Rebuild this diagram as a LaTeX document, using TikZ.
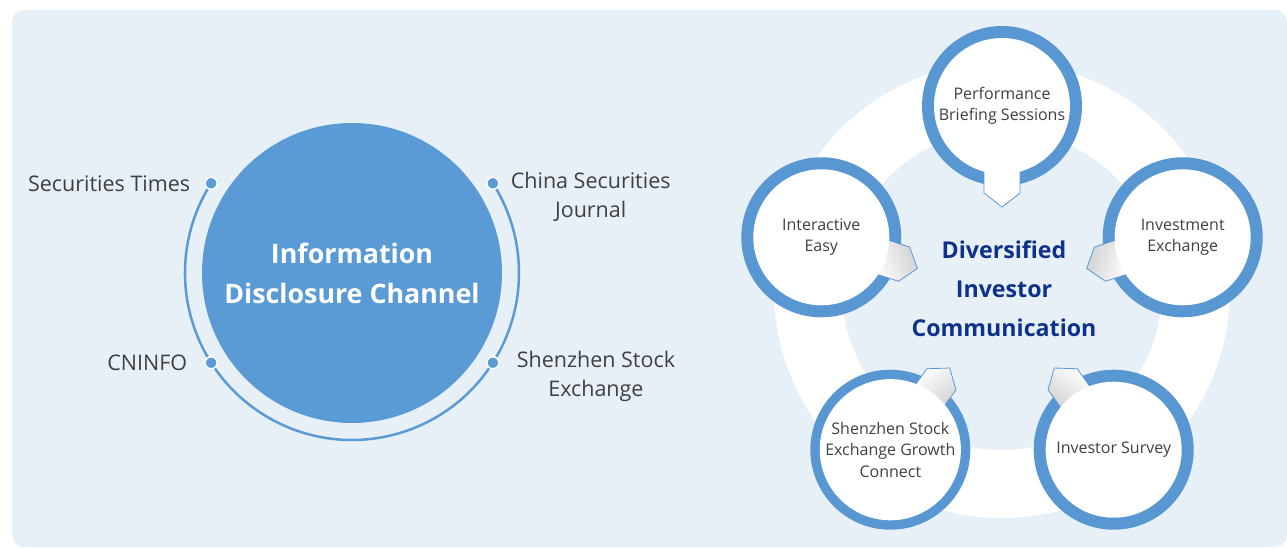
\documentclass[tikz,border=0pt]{standalone}
\usepackage{fontspec}
\setmainfont{Open Sans}
\usetikzlibrary{positioning}
\definecolor{panelbg}{RGB}{232,240,247}
\definecolor{infoblue}{RGB}{91,155,213}
\definecolor{ringblue}{RGB}{88,151,210}
\definecolor{textgray}{RGB}{64,64,64}
\definecolor{navy}{RGB}{14,50,140}
\begin{document}
\begin{tikzpicture}
  [x=1pt, y=1pt,
   bigdisk/.style={circle, fill=infoblue, minimum size=300pt, inner sep=0pt, text=white, align=center, font=\bfseries\fontsize{26.8}{40}\selectfont},
   arcline/.style={draw=infoblue, line width=2.5pt},
   dot/.style={circle, fill=infoblue, draw=white, line width=1.5pt, minimum size=12pt, inner sep=0pt},
   lbl/.style={text=textgray, align=center, font=\fontsize{21.5}{29}\selectfont, inner sep=0pt},
   outerdisk/.style={circle, fill=ringblue, minimum size=160pt, inner sep=0pt},
   innerdisk/.style={circle, fill=white, minimum size=136pt, inner sep=0pt, text=textgray, align=center, font=\fontsize{16}{21.5}\selectfont},
   tab/.style={fill=white, draw=ringblue, line width=0.8pt},
   tabshade/.style={draw=ringblue, line width=0.8pt, top color=black!18, bottom color=white, shading angle=#1},
   title/.style={text=navy, align=center, font=\bfseries\fontsize{23.2}{39}\selectfont}]
  \useasboundingbox (0,0) rectangle (1287,-548);
  \fill[panelbg, rounded corners=12pt] (12,-10) rectangle (1287,-547);

  % information disclosure channel
  \node[bigdisk] (info) at (352,-273) {Information\\Disclosure Channel};
  \coordinate (d1) at ([shift={(147.5:167)}]info.center);
  \coordinate (d2) at ([shift={(32.5:167)}]info.center);
  \coordinate (d3) at ([shift={(212.5:167)}]info.center);
  \coordinate (d4) at ([shift={(-32.5:167)}]info.center);
  \draw[arcline] (d1) arc[start angle=147.5, end angle=392.5, radius=167];
  \node[dot] (dot1) at (d1) {};
  \node[dot] (dot2) at (d2) {};
  \node[dot] (dot3) at (d3) {};
  \node[dot] (dot4) at (d4) {};
  \node[lbl, left=14pt of dot1] (sectimes) {Securities Times};
  \node[lbl, right=11pt of dot2, yshift=-14pt] (csj) {China Securities\\Journal};
  \node[lbl, left=17pt of dot3] (cninfo) {CNINFO};
  \node[lbl, right=17pt of dot4, yshift=-14pt] (szse) {Shenzhen Stock\\Exchange};

  % diversified investor communication
  \coordinate (hub) at (1002,-296);
  \draw[white, line width=68pt] ([yshift=6pt]hub) circle[radius=194];

  \node[outerdisk] (perfring) at ([shift={(90:190)}]hub) {};
  \begin{scope}[shift={(perfring.center)}, rotate=270]
    \filldraw[tab] (60,-18) -- (87,-18) -- (101,0) -- (87,18) -- (60,18) -- cycle;
  \end{scope}
  \node[innerdisk] (perf) at (perfring) {Performance\\Briefing Sessions};

  \node[outerdisk] (interring) at ([shift={(162:190)}]hub) {};
  \begin{scope}[shift={(interring.center)}, rotate=342]
    \draw[tabshade=288] (60,-18) -- (87,-18) -- (101,0) -- (87,18) -- (60,18) -- cycle;
  \end{scope}
  \node[innerdisk] (inter) at (interring) {Interactive\\Easy};

  \node[outerdisk] (invexring) at ([shift={(18:190)}]hub) {};
  \begin{scope}[shift={(invexring.center)}, rotate=198]
    \draw[tabshade=72] (60,-18) -- (87,-18) -- (101,0) -- (87,18) -- (60,18) -- cycle;
  \end{scope}
  \node[innerdisk] (invex) at (invexring) {Investment\\Exchange};

  \node[outerdisk] (growring) at ([shift={(234:190)}]hub) {};
  \begin{scope}[shift={(growring.center)}, rotate=54]
    \draw[tabshade=216] (60,-18) -- (87,-18) -- (101,0) -- (87,18) -- (60,18) -- cycle;
  \end{scope}
  \node[innerdisk] (grow) at (growring) {Shenzhen Stock\\Exchange Growth\\Connect};

  \node[outerdisk] (surveyring) at ([shift={(306:190)}]hub) {};
  \begin{scope}[shift={(surveyring.center)}, rotate=126]
    \draw[tabshade=144] (60,-18) -- (87,-18) -- (101,0) -- (87,18) -- (60,18) -- cycle;
  \end{scope}
  \node[innerdisk] (survey) at (surveyring) {Investor Survey};

  \node[title] (dic) at ([xshift=2pt, yshift=7pt]hub) {Diversified\\Investor\\Communication};
\end{tikzpicture}
\end{document}
